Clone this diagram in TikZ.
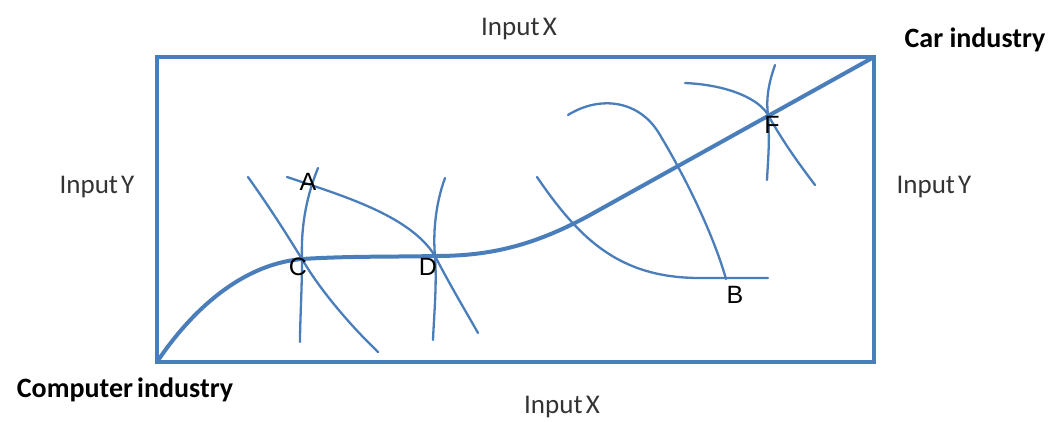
\documentclass[tikz,border=0pt]{standalone}
\usepackage{fontspec}
\setmainfont{Carlito}
\newfontfamily\lblfont{Liberation Sans}
\definecolor{lineblue}{RGB}{74,126,187}
\begin{document}
\begin{tikzpicture}[x=1pt,y=-1pt,
  axlabel/.style={font=\fontsize{27}{29}\selectfont, text=black!80, anchor=base, inner sep=0},
  indlabel/.style={font=\fontsize{28}{30}\selectfont\bfseries, anchor=base, inner sep=0},
  ptlabel/.style={font=\lblfont\fontsize{25}{27}\selectfont, inner sep=0},
  frame/.style={draw=lineblue, line width=3.3pt},
  mainline/.style={draw=lineblue, line width=4pt, line cap=round},
  iso/.style={draw=lineblue, line width=2.3pt, line cap=round}]
\useasboundingbox (0,0) rectangle (1061,421);
% frame
\coordinate (O) at (157,362);
\coordinate (T) at (874,57);
\draw[frame] (O) rectangle (T);
% key points
\coordinate (C) at (302,259);
\coordinate (D) at (435,256);
\coordinate (F) at (768,115);
\coordinate (B) at (726,279);
% isoquants
\draw[iso] (248,177) .. controls (275,215) and (290,240) .. (C) .. controls (320,290) and (350,325) .. (378,352);
\draw[iso] (318,168) .. controls (305,200) and (301,230) .. (C) .. controls (302,290) and (300,320) .. (300,342);
\draw[iso] (287,177) .. controls (340,195) and (410,215) .. (D) .. controls (450,285) and (465,310) .. (478,333);
\draw[iso] (445,178) .. controls (435,205) and (433,235) .. (D) .. controls (437,285) and (434,315) .. (433,340);
\draw[iso] (568,115) .. controls (600,95) and (640,100) .. (660,135) .. controls (690,185) and (715,240) .. (B);
\draw[iso] (537,177) .. controls (580,240) and (620,278) .. (700,278) -- (768,278);
\draw[iso] (685,83) .. controls (730,85) and (760,100) .. (F) .. controls (785,145) and (800,165) .. (815,185);
\draw[iso] (775,65) .. controls (768,85) and (766,100) .. (F) .. controls (770,140) and (768,160) .. (767,180);
% main expansion path
\draw[mainline] (O) .. controls (185,320) and (235,265) .. (C) .. controls (350,256) and (390,257) .. (D) .. controls (485,256) and (530,248) .. (590,215) -- (T);
% point labels
\node[ptlabel] (lA) at (308,182) {A};
\node[ptlabel] (lC) at (298,267) {C};
\node[ptlabel] (lD) at (428,267) {D};
\node[ptlabel] (lB) at (735,295) {B};
\node[ptlabel] (lF) at (772,125) {F};
% axis labels
\node[axlabel] (xtop) at (519,35) {Input\kern0.12em X};
\node[axlabel] (xbot) at (562,413) {Input\kern0.12em X};
\node[axlabel] (yl) at (97,193) {Input\kern0.12em Y};
\node[axlabel] (yr) at (934,193) {Input\kern0.12em Y};
\node[indlabel] (car) at (975,47) {Car industry};
\node[indlabel] (comp) at (125,397) {Computer\kern0.15em industry};
\end{tikzpicture}
\end{document}
